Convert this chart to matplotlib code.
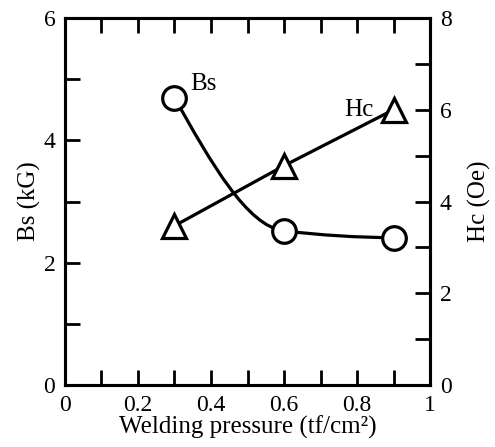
import matplotlib
matplotlib.use("Agg")
import matplotlib.pyplot as plt
from matplotlib.path import Path
from matplotlib.patches import PathPatch

# データ
pressure = [0.3, 0.6, 0.9]          # tf/cm2
bs_values = [4.7, 2.52, 2.41]       # kG
hc_values = [3.47, 4.78, 6.0]       # Oe

plt.rcParams['font.family'] = ['Liberation Serif', 'DejaVu Serif']
plt.rcParams['font.size'] = 17


def smooth_path(xs, ys):
    """単調3次エルミート（PCHIP風）をベジェ曲線で描くためのPathを作る"""
    n = len(xs)
    h = [xs[i + 1] - xs[i] for i in range(n - 1)]
    d = [(ys[i + 1] - ys[i]) / h[i] for i in range(n - 1)]
    m = [0.0] * n
    for i in range(1, n - 1):
        if d[i - 1] * d[i] > 0:
            m[i] = 2.0 / (1.0 / d[i - 1] + 1.0 / d[i])
    m[0] = ((2 * h[0] + h[1]) * d[0] - h[0] * d[1]) / (h[0] + h[1])
    if m[0] * d[0] <= 0:
        m[0] = 0.0
    m[-1] = ((2 * h[-1] + h[-2]) * d[-1] - h[-1] * d[-2]) / (h[-1] + h[-2])
    if m[-1] * d[-1] <= 0:
        m[-1] = 0.0
    verts = [(xs[0], ys[0])]
    codes = [Path.MOVETO]
    for i in range(n - 1):
        c1 = (xs[i] + h[i] / 3, ys[i] + m[i] * h[i] / 3)
        c2 = (xs[i + 1] - h[i] / 3, ys[i + 1] - m[i + 1] * h[i] / 3)
        verts += [c1, c2, (xs[i + 1], ys[i + 1])]
        codes += [Path.CURVE4] * 3
    return Path(verts, codes)


fig = plt.figure(figsize=(4.95, 4.47), dpi=100)
ax = fig.add_axes([0.1313, 0.1387, 0.7374, 0.821])
ax2 = ax.twinx()

# Bs 曲線
ax.add_patch(PathPatch(smooth_path(pressure, bs_values), fill=False,
                       lw=2.3, color='black', zorder=2))
ax.plot(pressure, bs_values, 'o', ms=17, mfc='white', mec='black',
        mew=2.3, zorder=3)

# Hc 直線
ax2.plot(pressure, hc_values, '-', color='black', lw=2.3, zorder=2)
ax2.plot(pressure, hc_values, '^', ms=17, mfc='white', mec='black',
         mew=2.3, zorder=3)

ax.text(0.342, 4.82, 'Bs', fontsize=18)
ax2.text(0.845, 6.0, 'Hc', fontsize=18, ha='right', va='center')

ax.set_xlim(0, 1)
ax.set_ylim(0, 6)
ax2.set_ylim(0, 8)

ax.set_xticks([0, 0.2, 0.4, 0.6, 0.8, 1.0])
ax.set_xticklabels(['0', '0.2', '0.4', '0.6', '0.8', '1'])
ax.set_xticks([0.1, 0.3, 0.5, 0.7, 0.9], minor=True)
ax.set_yticks([0, 2, 4, 6])
ax.set_yticks([1, 3, 5], minor=True)
ax2.set_yticks([0, 2, 4, 6, 8])
ax2.set_yticks([1, 3, 5, 7], minor=True)

for a in (ax, ax2):
    a.tick_params(which='both', direction='in', length=11, width=2,
                  labelsize=17, pad=7)
    for s in a.spines.values():
        s.set_linewidth(2.2)
ax.tick_params(which='both', top=True, right=False)
ax2.tick_params(which='both', left=False, right=True)

ax.set_xlabel('Welding pressure (tf/cm²)', fontsize=18, labelpad=0)
ax.set_ylabel('Bs (kG)', fontsize=18, labelpad=2)
ax2.set_ylabel('Hc (Oe)', fontsize=18, labelpad=12)

fig.savefig('out.png', dpi=100)
